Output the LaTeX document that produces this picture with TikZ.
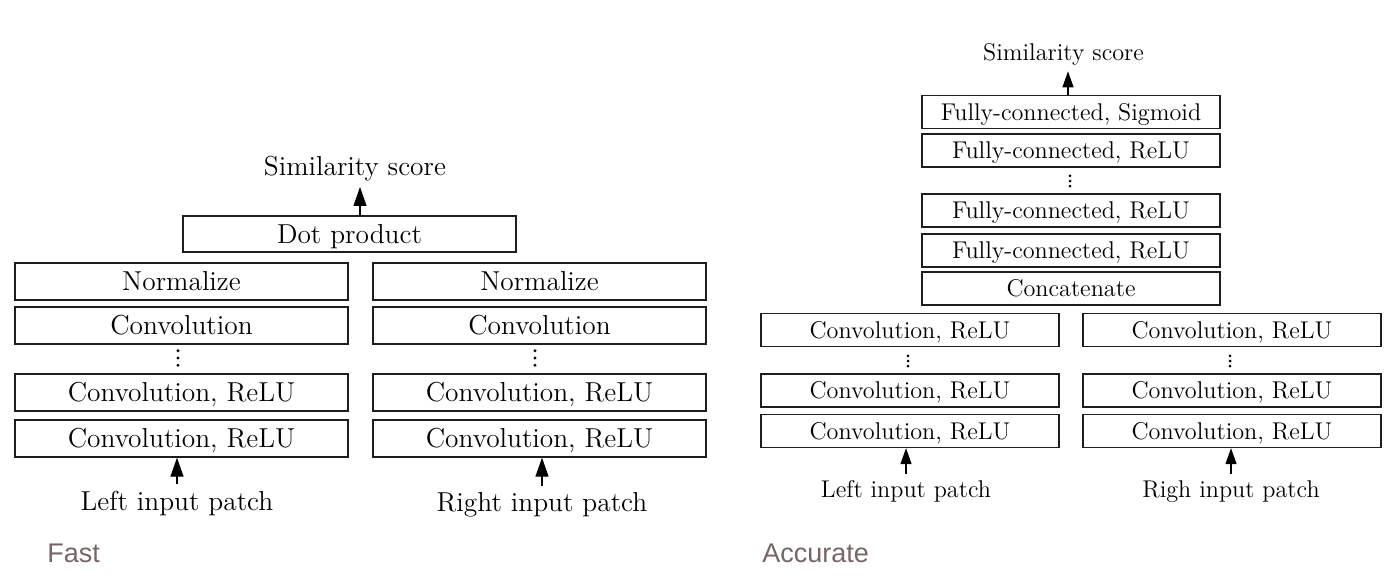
\documentclass[tikz,border=0pt]{standalone}
\usepackage{fontspec}
\newfontfamily\labelfont{Liberation Sans}
\usetikzlibrary{arrows.meta}
\definecolor{labcol}{RGB}{118,103,103}
\definecolor{edgecol}{RGB}{30,30,30}
\begin{document}
\begin{tikzpicture}[x=0.5pt,y=-0.5pt,
  fastbox/.style={draw=edgecol,line width=0.65pt,minimum width=166.5pt,minimum height=18.5pt,inner sep=0pt,
    font=\fontsize{13.7}{16}\selectfont,text height=11.9pt,text depth=2.55pt},
  accbox/.style={draw=edgecol,line width=0.65pt,minimum width=149pt,minimum height=16.5pt,inner sep=0pt,
    font=\fontsize{12.1}{14}\selectfont,text height=10.5pt,text depth=2.25pt},
  fasttxt/.style={font=\fontsize{13.7}{16}\selectfont,inner sep=3pt,anchor=base},
  acctxt/.style={font=\fontsize{12.1}{14}\selectfont,inner sep=3pt,anchor=base},
  fastarr/.style={line width=0.65pt,-{Triangle[length=9.5pt,width=6.5pt]}},
  accarr/.style={line width=0.65pt,-{Triangle[length=8pt,width=5.5pt]}},
  grouplab/.style={font=\labelfont\fontsize{13.5}{16}\selectfont,text=labcol,anchor=base west,inner sep=0pt}]
\useasboundingbox (0,0) rectangle (1400,579);
\fill[white] (0,0) rectangle (1400,579);

% ---------- Fast ----------
\node[fasttxt] (fsim) at (355,175) {Similarity score};
\node[fastbox,minimum height=18pt] (fdot) at (349.5,234) {Dot product};
\coordinate (fax) at (360,0);
\node[fastbox] (fln) at (181.5,281.5) {Normalize};
\node[fastbox] (flc) at (181.5,325.5) {Convolution};
\coordinate (fld) at (178,358);
\node[fastbox] (flr1) at (181.5,392.5) {Convolution, ReLU};
\node[fastbox] (flr2) at (181.5,438.5) {Convolution, ReLU};
\node[fasttxt] (flin) at (177,510) {Left input patch};

\node[fastbox] (frn) at (539.5,281.5) {Normalize};
\node[fastbox] (frc) at (539.5,325.5) {Convolution};
\coordinate (frd) at (535,358);
\node[fastbox] (frr1) at (539.5,392.5) {Convolution, ReLU};
\node[fastbox] (frr2) at (539.5,438.5) {Convolution, ReLU};
\node[fasttxt] (frin) at (542,511) {Right input patch};

\foreach \c in {fld,frd}
  \foreach \d in {-1,0,1}
    \fill ([yshift=-\d*3.6pt]\c) circle (0.8pt);

\draw[fastarr] (fdot.north -| fax) -- (fsim.south -| fax);
\draw[fastarr] (flin.north) -- (flin.north |- flr2.south);
\draw[fastarr] (frin.north) -- (frin.north |- frr2.south);

\node[grouplab] (fastlab) at (47,562) {Fast};

% ---------- Accurate ----------
\node[acctxt] (asim) at (1063.5,60) {Similarity score};
\coordinate (aax) at (1068,0);
\node[accbox] (afs) at (1071,112) {Fully-connected, Sigmoid};
\node[accbox] (af1) at (1071,150.5) {Fully-connected, ReLU};
\coordinate (afd) at (1070,181);
\node[accbox] (af2) at (1071,210.5) {Fully-connected, ReLU};
\node[accbox] (af3) at (1071,250.5) {Fully-connected, ReLU};
\node[accbox] (acat) at (1071,288.5) {Concatenate};

\node[accbox] (alc1) at (910,330) {Convolution, ReLU};
\coordinate (ald) at (908,361);
\node[accbox] (alc2) at (910,390.5) {Convolution, ReLU};
\node[accbox] (alc3) at (910,431) {Convolution, ReLU};
\node[acctxt] (alin) at (906,497) {Left input patch};

\node[accbox] (arc1) at (1232,330) {Convolution, ReLU};
\coordinate (ard) at (1230,361);
\node[accbox] (arc2) at (1232,390.5) {Convolution, ReLU};
\node[accbox] (arc3) at (1232,431) {Convolution, ReLU};
\node[acctxt] (arin) at (1231,497) {Righ input patch};

\foreach \c in {afd,ald,ard}
  \foreach \d in {-1,0,1}
    \fill ([yshift=-\d*2.6pt]\c) circle (0.75pt);

\draw[accarr] (afs.north -| aax) -- (asim.south -| aax);
\draw[accarr] (alin.north) -- (alin.north |- alc3.south);
\draw[accarr] (arin.north) -- (arin.north |- arc3.south);

\node[grouplab] (acclab) at (762,562) {Accurate};
\end{tikzpicture}
\end{document}
